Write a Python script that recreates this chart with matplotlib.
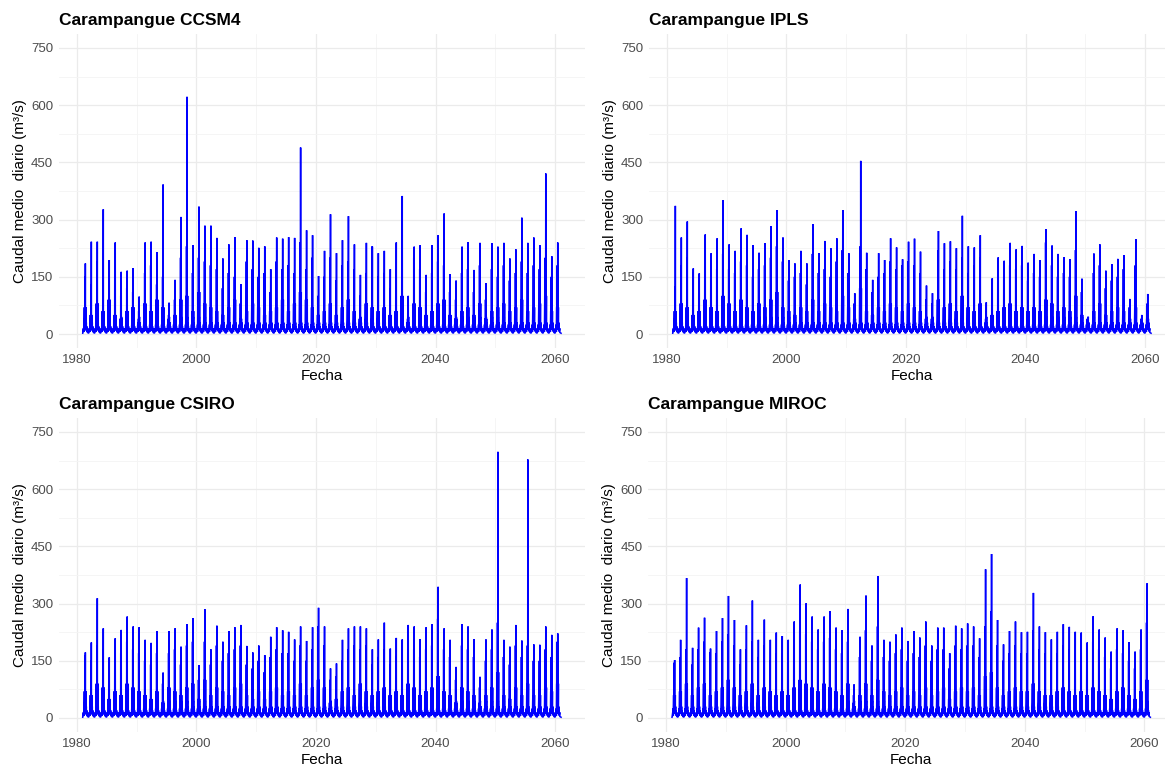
import numpy as np
import matplotlib
matplotlib.use("Agg")
import matplotlib.pyplot as plt
from matplotlib.ticker import MultipleLocator

plt.rcParams['font.family'] = ['Liberation Sans', 'DejaVu Sans']

years = np.arange(1981, 2061)  # one winter peak per year

# annual maxima (m3/s)
ccsm4_peak = [185, 242, 242, 327, 194, 240, 163, 166, 173, 98,
              240, 242, 215, 392, 82, 142, 307, 622, 233, 334,
              284, 284, 252, 198, 235, 254, 131, 246, 245, 226,
              230, 170, 253, 250, 254, 252, 489, 272, 259, 152,
              218, 314, 212, 246, 309, 235, 155, 239, 229, 212,
              218, 170, 240, 362, 100, 229, 233, 155, 233, 259,
              316, 157, 140, 229, 241, 168, 239, 133, 238, 229,
              239, 198, 222, 305, 239, 253, 233, 421, 204, 240]
ccsm4_second = [150, 130, 190, 140, 120, 170, 100, 120, 110, 60,
                160, 180, 130, 150, 50, 90, 200, 230, 160, 200,
                190, 180, 170, 120, 160, 150, 80, 190, 170, 150,
                160, 110, 190, 170, 180, 160, 240, 170, 200, 100,
                150, 200, 140, 180, 190, 170, 100, 160, 229, 150,
                160, 120, 170, 200, 60, 200, 170, 110, 160, 190,
                180, 110, 90, 160, 170, 110, 180, 90, 170, 150,
                180, 140, 160, 190, 160, 180, 170, 200, 150, 180]
ccsm4_third = [70, 50, 80, 60, 90, 50, 40, 60, 70, 30,
               80, 60, 90, 70, 30, 50, 90, 100, 60, 110,
               80, 70, 60, 50, 70, 90, 40, 60, 80, 70,
               50, 60, 70, 90, 60, 80, 110, 90, 70, 50,
               60, 80, 50, 70, 90, 60, 40, 80, 70, 60,
               70, 50, 60, 100, 30, 80, 70, 50, 60, 80,
               90, 50, 40, 60, 70, 50, 80, 40, 60, 70,
               80, 60, 70, 90, 60, 70, 80, 100, 60, 70]

ipls_peak = [336, 253, 295, 172, 159, 261, 212, 251, 351, 235,
             218, 277, 260, 233, 213, 238, 283, 325, 253, 194,
             185, 218, 185, 288, 212, 244, 225, 251, 325, 212,
             107, 454, 213, 142, 212, 194, 251, 227, 196, 242,
             250, 216, 127, 107, 270, 238, 243, 225, 310, 230,
             227, 259, 83, 146, 201, 192, 239, 222, 231, 187,
             210, 194, 275, 232, 210, 201, 196, 322, 145, 45,
             211, 235, 166, 183, 197, 207, 92, 249, 50, 105]
ipls_second = [124, 180, 200, 160, 130, 190, 150, 170, 210, 170,
               160, 190, 180, 150, 170, 180, 200, 230, 190, 140,
               150, 160, 130, 210, 160, 170, 150, 190, 220, 160,
               80, 230, 170, 110, 150, 160, 190, 170, 180, 190,
               180, 160, 90, 80, 220, 170, 190, 170, 200, 160,
               180, 200, 60, 110, 160, 150, 180, 170, 180, 140,
               160, 150, 240, 180, 150, 160, 150, 220, 110, 35,
               160, 180, 120, 140, 150, 170, 70, 180, 35, 80]
ipls_third = [60, 80, 70, 50, 60, 90, 70, 60, 100, 80,
              60, 90, 70, 60, 80, 70, 90, 110, 70, 60,
              50, 70, 60, 90, 60, 80, 70, 60, 100, 70,
              40, 120, 60, 50, 70, 60, 80, 70, 60, 80,
              70, 60, 40, 40, 90, 70, 80, 60, 100, 70,
              60, 80, 30, 50, 60, 70, 80, 60, 70, 60,
              70, 60, 90, 80, 60, 70, 60, 100, 50, 25,
              60, 80, 50, 60, 70, 60, 40, 70, 25, 40]

csiro_peak = [172, 198, 314, 235, 159, 209, 231, 266, 240, 238,
              205, 197, 228, 119, 228, 235, 187, 246, 262, 139,
              285, 180, 242, 200, 228, 238, 244, 189, 172, 190,
              165, 213, 238, 230, 226, 206, 240, 202, 238, 289,
              240, 130, 143, 205, 235, 240, 240, 235, 180, 206,
              250, 182, 210, 206, 244, 240, 207, 238, 246, 344,
              235, 205, 134, 246, 240, 207, 108, 206, 232, 698,
              205, 187, 244, 203, 678, 193, 192, 240, 218, 222]
csiro_second = [165, 150, 190, 180, 120, 160, 170, 200, 180, 170,
                150, 140, 170, 90, 170, 180, 140, 190, 200, 100,
                200, 140, 190, 150, 170, 180, 190, 140, 130, 150,
                120, 160, 180, 170, 170, 150, 190, 150, 180, 240,
                190, 100, 110, 150, 180, 190, 180, 190, 140, 160,
                180, 140, 160, 150, 190, 180, 160, 180, 190, 260,
                180, 160, 100, 190, 180, 160, 80, 150, 180, 250,
                160, 140, 190, 160, 190, 150, 150, 180, 160, 200]
csiro_third = [70, 60, 90, 80, 50, 70, 60, 90, 80, 70,
               60, 50, 70, 40, 80, 70, 60, 80, 90, 50,
               100, 60, 80, 70, 60, 80, 90, 60, 50, 70,
               50, 70, 80, 60, 70, 60, 90, 60, 80, 100,
               80, 40, 50, 70, 80, 60, 90, 70, 60, 70,
               80, 60, 70, 60, 90, 80, 60, 70, 80, 110,
               70, 60, 40, 80, 70, 60, 30, 60, 80, 120,
               60, 50, 80, 60, 90, 60, 60, 80, 70, 90]

miroc_peak = [152, 205, 367, 184, 237, 263, 182, 228, 262, 320,
              257, 180, 243, 308, 205, 258, 205, 224, 215, 205,
              253, 350, 301, 266, 232, 266, 280, 237, 230, 286,
              88, 213, 321, 190, 372, 205, 200, 219, 237, 202,
              228, 211, 253, 190, 237, 237, 170, 242, 235, 248,
              240, 209, 390, 430, 257, 193, 228, 253, 225, 226,
              328, 240, 225, 206, 226, 246, 239, 226, 224, 198,
              267, 232, 211, 174, 235, 230, 199, 174, 232, 353]
miroc_second = [145, 160, 180, 140, 180, 200, 172, 170, 200, 220,
                190, 140, 180, 200, 160, 190, 150, 170, 160, 150,
                190, 230, 220, 200, 180, 200, 210, 180, 170, 200,
                60, 160, 230, 150, 240, 160, 150, 170, 180, 150,
                170, 160, 190, 150, 180, 180, 130, 190, 180, 190,
                190, 160, 240, 280, 190, 150, 170, 190, 170, 170,
                230, 180, 170, 150, 170, 190, 180, 170, 170, 150,
                200, 180, 160, 130, 180, 170, 150, 130, 180, 250]
miroc_third = [60, 70, 90, 60, 80, 90, 60, 70, 80, 100,
               80, 60, 70, 90, 60, 80, 70, 60, 70, 60,
               80, 100, 90, 80, 70, 90, 80, 70, 60, 90,
               30, 60, 90, 60, 100, 70, 60, 70, 80, 60,
               70, 60, 80, 60, 70, 80, 50, 70, 80, 70,
               80, 60, 110, 120, 80, 60, 70, 80, 70, 70,
               90, 70, 60, 60, 70, 80, 70, 60, 70, 60,
               80, 70, 60, 50, 70, 80, 60, 50, 70, 100]

titles = ["Carampangue CCSM4", "Carampangue IPLS",
          "Carampangue CSIRO", "Carampangue MIROC"]
series = [(ccsm4_peak, ccsm4_second, ccsm4_third),
          (ipls_peak, ipls_second, ipls_third),
          (csiro_peak, csiro_second, csiro_third),
          (miroc_peak, miroc_second, miroc_third)]

# small storm / base flow levels used between the big events
base_lo = 2
small_events = [25, 40, 45, 30, 20, 15]


def hidrograma(peak, second, third):
    # rough daily-like trace: summer base flow, a cluster of winter storms
    t, q = [], []
    for yr, p, s, th in zip(years, peak, second, third):
        pts = [(0.00, base_lo), (0.12, small_events[5]), (0.13, 5),
               (0.20, small_events[0]), (0.215, 6),
               (0.27, th), (0.285, 12), (0.33, small_events[1]), (0.34, 14),
               (0.36, s), (0.375, 18), (0.41, 35), (0.415, 15),
               (0.44, p), (0.455, 22), (0.50, small_events[2]), (0.515, 12),
               (0.55, th), (0.565, 14),
               (0.60, small_events[3]), (0.615, 8), (0.68, small_events[4]),
               (0.69, 6), (0.78, small_events[5]), (0.79, 4)]
        for off, v in pts:
            t.append(yr + off)
            q.append(v)
    t.append(years[-1] + 1.0)
    q.append(base_lo)
    return np.array(t), np.array(q)


fig = plt.figure(figsize=(11.65, 7.68), dpi=100)

W, H = 1165.0, 768.0
# panel boxes in pixels: left, top, right, bottom
boxes = [(58.8, 33.7, 585.0, 348.3),
         (648.8, 33.7, 1175.0, 348.3),
         (58.8, 417.7, 585.0, 732.3),
         (648.1, 417.7, 1174.3, 732.3)]

for (l, tp, r, b), title, (pk, sc, th) in zip(boxes, titles, series):
    ax = fig.add_axes([l / W, 1 - b / H, (r - l) / W, (b - tp) / H])
    t, q = hidrograma(pk, sc, th)
    ax.plot(t, q, color='#0000FF', lw=1.1, solid_joinstyle='miter')
    ax.set_xlim(1977, 2065)
    ax.set_ylim(-37.5, 787.5)
    ax.set_xticks(np.arange(1980, 2061, 20))
    ax.xaxis.set_minor_locator(MultipleLocator(10))
    ax.set_yticks(np.arange(0, 751, 150))
    ax.yaxis.set_minor_locator(MultipleLocator(75))
    ax.grid(which='major', color='#EBEBEB', lw=0.9)
    ax.grid(which='minor', color='#F4F4F4', lw=0.6)
    ax.set_axisbelow(True)
    for sp in ax.spines.values():
        sp.set_visible(False)
    ax.tick_params(which='both', length=0, labelsize=9.5, colors='#4D4D4D', pad=4)
    ax.set_xlabel('Fecha', fontsize=11, labelpad=2)
    ax.set_ylabel('Caudal medio  diario (m³/s)', fontsize=11, labelpad=3)
    ax.set_title(title, loc='left', fontsize=12.5, fontweight='bold', pad=6)

fig.savefig('out.png', dpi=100)
